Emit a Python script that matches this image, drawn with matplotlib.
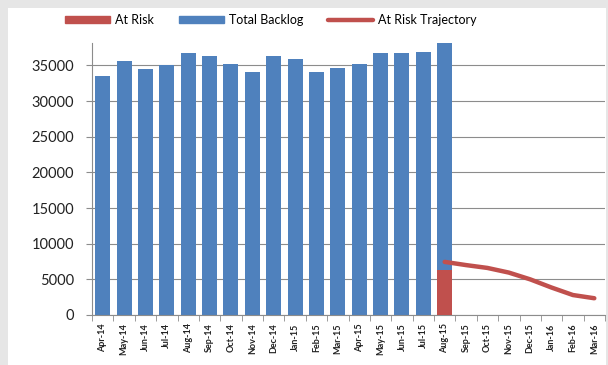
import numpy as np
import matplotlib.pyplot as plt
from matplotlib.patches import Rectangle
from matplotlib.lines import Line2D

months = ['Apr-14', 'May-14', 'Jun-14', 'Jul-14', 'Aug-14', 'Sep-14', 'Oct-14', 'Nov-14',
          'Dec-14', 'Jan-15', 'Feb-15', 'Mar-15', 'Apr-15', 'May-15', 'Jun-15', 'Jul-15',
          'Aug-15', 'Sep-15', 'Oct-15', 'Nov-15', 'Dec-15', 'Jan-16', 'Feb-16', 'Mar-16']
total_backlog = [33500, 35600, 34500, 35000, 36700, 36300, 35200, 34100,
                 36300, 35900, 34100, 34700, 35200, 36700, 36700, 36850,
                 38100, 0, 0, 0, 0, 0, 0, 0]
at_risk = [0] * 16 + [6300] + [0] * 7
trajectory = [np.nan] * 16 + [7450, 7000, 6600, 5950, 5000, 3850, 2800, 2350]

RED = '#c0504d'
BLUE = '#4f81bd'
GRID = '#8c8c8c'

plt.rcParams['font.family'] = ['Lato', 'DejaVu Sans']

fig = plt.figure(figsize=(6.08, 3.65), dpi=100)
fig.patch.set_facecolor('#e6e6e6')
# white chart panel
fig.add_artist(Rectangle((8 / 608, 0), 598 / 608, 357 / 365, transform=fig.transFigure,
                         facecolor='white', edgecolor='none', zorder=0))

ax = fig.add_axes([92 / 608, 1 - 315 / 365, 513 / 608, (315 - 43) / 365])
ax.set_facecolor('none')

x = np.arange(len(months))
ax.bar(x, total_backlog, width=0.7, color=BLUE, zorder=2)
ax.bar(x, at_risk, width=0.7, color=RED, zorder=3)
ax.plot(x, trajectory, color=RED, lw=3.2, solid_capstyle='round', solid_joinstyle='round', zorder=4)

ax.set_xlim(-0.5, len(months) - 0.5)
ax.set_ylim(0, 38150)
ax.set_yticks(range(0, 35001, 5000))
ax.tick_params(axis='y', labelsize=10.5, length=4, color=GRID, pad=9, labelcolor='#222222')
ax.yaxis.grid(True, color=GRID, lw=0.8, zorder=1)
ax.set_axisbelow(True)

ax.set_xticks(x)
ax.set_xticklabels(months, rotation=90, fontsize=6.5, fontweight='bold', color='#222222')
ax.tick_params(axis='x', which='major', length=0, pad=6)
ax.set_xticks(np.arange(-0.5, len(months)), minor=True)
ax.tick_params(axis='x', which='minor', length=4, color=GRID)

for side in ['top', 'right']:
    ax.spines[side].set_visible(False)
for side in ['left', 'bottom']:
    ax.spines[side].set_color(GRID)
    ax.spines[side].set_linewidth(0.8)

handles = [Rectangle((0, 0), 1, 1, color=RED),
           Rectangle((0, 0), 1, 1, color=BLUE),
           Line2D([], [], color=RED, lw=3.2, solid_capstyle='round')]
fig.legend(handles, ['At Risk', 'Total Backlog', 'At Risk Trajectory'], loc='center',
           bbox_to_anchor=(271 / 608, 1 - 20 / 365), ncol=3, frameon=False, fontsize=9,
           handlelength=3.6, handleheight=0.55, handletextpad=0.4, columnspacing=2.0)

fig.savefig('out.png', dpi=100, facecolor=fig.get_facecolor())
